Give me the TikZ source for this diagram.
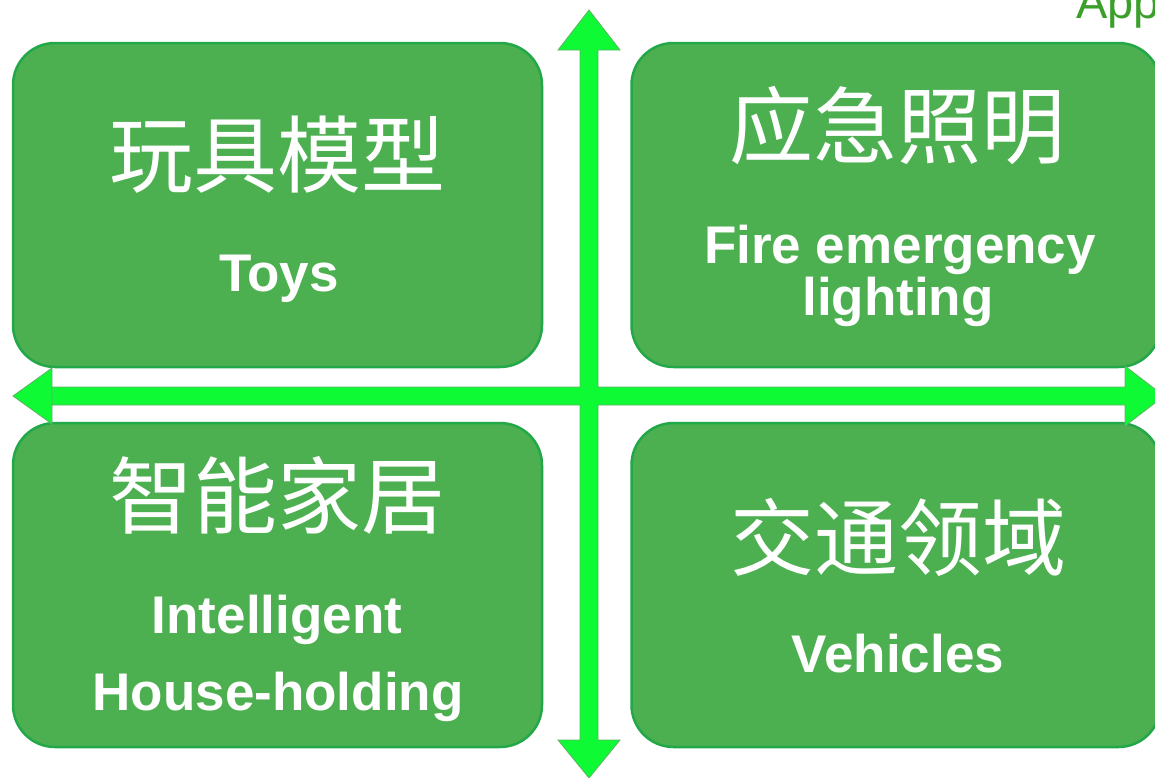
\documentclass[tikz,border=0pt]{standalone}
\usepackage{fontspec}
\setmainfont{Liberation Sans}
\newfontfamily\cjk{Noto Sans CJK SC}
\usepackage{tikz}
\definecolor{boxfill}{RGB}{76,175,80}
\definecolor{boxline}{RGB}{34,168,72}
\definecolor{axisfill}{RGB}{14,250,52}
\definecolor{axisline}{RGB}{96,178,104}
\definecolor{apptext}{RGB}{58,160,42}

\begin{document}
\begin{tikzpicture}[x=1pt, y=-1pt,
    box/.style={draw=boxline, fill=boxfill, line width=2.5pt, rounded corners=42pt,
      minimum width=529pt, minimum height=324pt, inner sep=0pt},
    zh/.style={text=white, inner sep=0pt, font=\cjk\fontsize{84}{84}\selectfont},
    en/.style={text=white, inner sep=0pt, anchor=base, font=\bfseries\fontsize{53}{53}\selectfont}]
      \useasboundingbox (0, 0) rectangle (1155, 777);
      % four fields
      \node[box] (toys) at (277.5, 205) {};
      \node[box] (fire) at (896, 205) {};
      \node[box] (home) at (277.5, 585) {};
      \node[box] (cars) at (896, 585) {};
      % cross of arrows
      \coordinate (o) at (589, 396);
      \draw[fill=axisfill, draw=axisline, line width=0.8pt]
        (580, 387) -- (580, 50) -- (558, 50) -- (589, 10) -- (620, 50) -- (598, 50)
        -- (598, 387) -- (1125, 387) -- (1125, 366) -- (1164, 396) -- (1125, 426) -- (1125, 405)
        -- (598, 405) -- (598, 740) -- (620, 740) -- (589, 778) -- (558, 740) -- (580, 740)
        -- (580, 405) -- (52, 405) -- (52, 368) -- (13, 396) -- (52, 424) -- (52, 387) -- cycle;
      % labels
      \node[zh] (toyszh) at (277, 155) {玩具模型};
      \node[en] (toysen) at (279, 291) {Toys};
      \node[zh] (firezh) at (897, 126) {应急照明};
      \node[en] (fireen) at (900, 263) {Fire emergency};
      \node[en] (fireen2) at (898, 315) {lighting};
      \node[zh] (homezh) at (277, 495) {智能家居};
      \node[en] (homeen) at (277, 633) {Intelligent};
      \node[en] (homeen2) at (278, 710) {House-holding};
      \node[zh] (carszh) at (898, 537) {交通领域};
      \node[en] (carsen) at (898, 672) {Vehicles};
      \node[text=apptext, anchor=base west, inner sep=0pt, font=\fontsize{47}{47}\selectfont]
        (app) at (1076, 18) {App};
    \end{tikzpicture}
\end{document}
